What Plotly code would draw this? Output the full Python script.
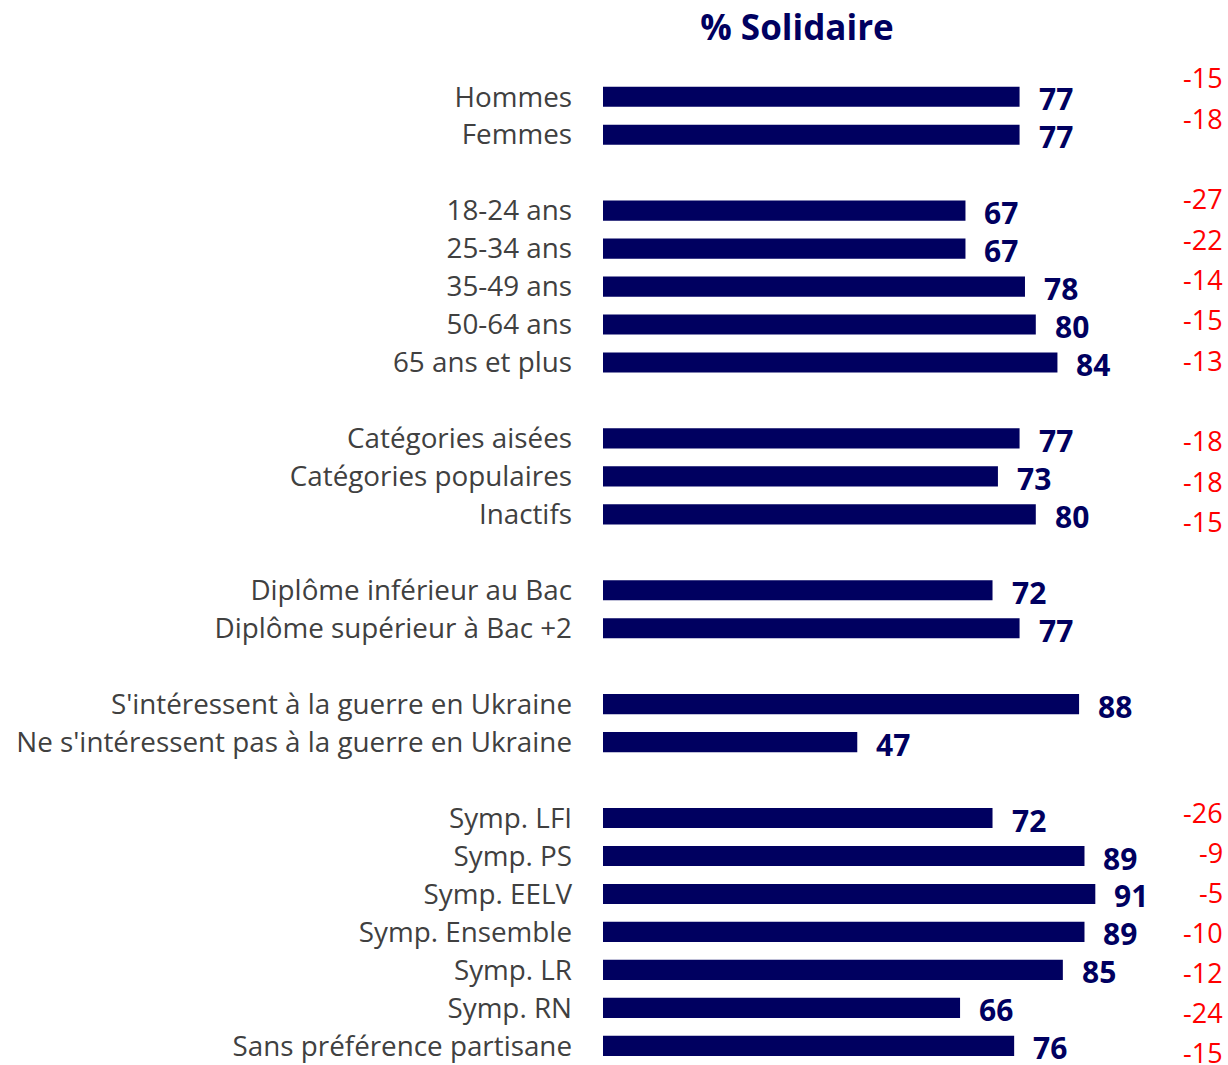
import plotly.graph_objects as go

categories = [
    "Hommes", "Femmes", "",
    "18-24 ans", "25-34 ans", "35-49 ans", "50-64 ans", "65 ans et plus", "",
    "Catégories aisées", "Catégories populaires", "Inactifs", "",
    "Diplôme inférieur au Bac", "Diplôme supérieur à Bac +2", "",
    "S'intéressent à la guerre en Ukraine", "Ne s'intéressent pas à la guerre en Ukraine", "",
    "Symp. LFI", "Symp. PS", "Symp. EELV", "Symp. Ensemble", "Symp. LR", "Symp. RN",
    "Sans préférence partisane",
]
values = [
    77, 77, None,
    67, 67, 78, 80, 84, None,
    77, 73, 80, None,
    72, 77, None,
    88, 47, None,
    72, 89, 91, 89, 85, 66, 76,
]
changes = [
    "-15", "-18", "",
    "-27", "-22", "-14", "-15", "-13", "",
    "-18", "-18", "-15", "",
    "", "", "",
    "", "", "",
    "-26", "-9", "-5", "-10", "-12", "-24", "-15",
]
title_text = "% Solidaire"

NAVY = "#000060"
GREY = "#404040"
RED = "#FF0000"
FONT = "Open Sans"

slots = list(range(len(categories)))
bx = [v for v in values if v is not None]
by = [s for s, v in zip(slots, values) if v is not None]

fig = go.Figure()
fig.add_trace(go.Bar(
    x=bx, y=by, orientation="h", width=0.53,
    marker=dict(color=NAVY, line=dict(width=0)),
    hoverinfo="skip",
))

annotations = []
for s, v in zip(by, bx):
    annotations.append(dict(
        x=v, y=s, xref="x", yref="y", text=f"<b>{v}</b>", showarrow=False,
        xanchor="left", yanchor="middle", xshift=17, yshift=-2,
        font=dict(family=FONT, size=30, color=NAVY),
    ))
for s, c in zip(slots, changes):
    if not c:
        continue
    if s < 15:
        shift = -(-19 + 2.37 * s)
    else:
        shift = -(-6 + 2.1 * (s - 19))
    annotations.append(dict(
        x=1, y=s, xref="paper", yref="y", text=c, showarrow=False,
        xanchor="right", yanchor="middle", yshift=shift, xshift=3,
        font=dict(family=FONT, size=27, color=RED),
    ))

fig.update_layout(
    width=1228, height=1065,
    margin=dict(l=603, r=6, t=74, b=1),
    paper_bgcolor="white", plot_bgcolor="white",
    showlegend=False,
    title=dict(text=f"<b>{title_text}</b>", x=797 / 1228, xanchor="center",
               y=1 - 28 / 1065, yanchor="middle",
               font=dict(family=FONT, size=35, color=NAVY)),
    annotations=annotations,
    xaxis=dict(range=[0, 619 / 5.41], visible=False, fixedrange=True),
    yaxis=dict(range=[25.4, -0.6], tickvals=slots, ticktext=categories,
               showgrid=False, zeroline=False, showline=False, ticks="",
               ticklabelstandoff=30, ticklabeloverflow="allow",
               tickfont=dict(family=FONT, size=27.8, color=GREY)),
)

fig.write_html("out.html", config={"displayModeBar": False},
               post_script="document.body.style.margin='0';document.body.style.overflow='hidden';")
